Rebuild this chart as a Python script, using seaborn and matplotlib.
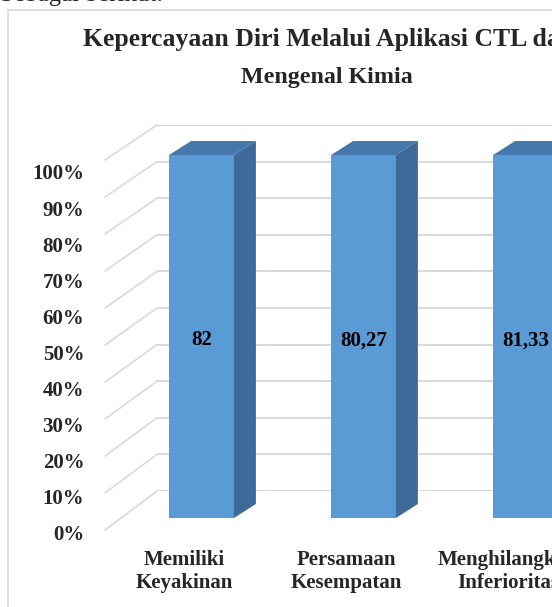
import matplotlib
matplotlib.use("Agg")
import matplotlib.pyplot as plt
import seaborn as sns
from matplotlib.patches import Polygon, Rectangle
from matplotlib.lines import Line2D

# ---------------- data ----------------
categories = ["Memiliki\nKeyakinan", "Persamaan\nKesempatan", "Menghilangkan\nInferioritas"]
values = [82, 80.27, 81.33]
# 100% stacked column with a single series -> every column fills 100 %
shares = [v / v * 100 for v in values]
value_labels = [f"{v:g}".replace(".", ",") for v in values]
y_ticks = [0, 10, 20, 30, 40, 50, 60, 70, 80, 90, 100]
y_tick_labels = [f"{t}%" for t in y_ticks]
title_line1 = "Kepercayaan Diri Melalui Aplikasi CTL dalam"
title_line2 = "Mengenal Kimia"
intro_text = "Sebagai berikut:"

# ---------------- style ----------------
sns.set_theme(style="white")
plt.rcParams["font.family"] = ["Liberation Serif", "DejaVu Serif"]

W, H = 552, 607
fig = plt.figure(figsize=(W / 100, H / 100), dpi=100)
fig.patch.set_facecolor("white")


def px_axes(left, top, right, bottom, z=0):
    a = fig.add_axes([left / W, 1 - bottom / H, (right - left) / W, (bottom - top) / H])
    a.set_zorder(z)
    a.patch.set_alpha(0)
    for s in a.spines.values():
        s.set_visible(False)
    return a


GRID = "#d9d9d9"
FONT_PT = 15

# back wall (gridlines)
ax_back = px_axes(157, 125, 157 + 486, 491, z=0)
ax_back.set_xlim(-0.5, 2.5)
ax_back.set_ylim(0, 100)
ax_back.set_yticks(y_ticks)
ax_back.set_xticks([])
ax_back.tick_params(left=False, labelleft=False)
ax_back.grid(axis="y", color=GRID, lw=1.4)

# front edge of the side wall (for depth lines)
ax_front = px_axes(105, 160, 105 + 486, 530, z=0)
ax_front.set_xlim(-0.5, 2.5)
ax_front.set_ylim(0, 100)
ax_front.set_xticks([])
ax_front.set_yticks([])

fig.canvas.draw()
inv = fig.transFigure.inverted()
for t in y_ticks:
    x0f, y0f = inv.transform(ax_front.transData.transform((-0.5, t)))
    x1f, y1f = inv.transform(ax_back.transData.transform((-0.5, t)))
    fig.add_artist(Line2D([x0f, x1f], [y0f, y1f], transform=fig.transFigure,
                          color=GRID, lw=1.2, zorder=1))

# bars (front plane)
ax = px_axes(120.5, 155, 606.5, 518, z=2)
sns.barplot(x=categories, y=shares, ax=ax, color="#5b9bd5", saturation=1,
            width=0.4, linewidth=0)
ax.set_xlim(-0.5, 2.5)
ax.set_ylim(0, 100)
ax.set_xticks([])
ax.set_yticks([])
ax.set_xlabel("")
ax.set_ylabel("")

dx = 22 / 162.0
dy = 14 / 3.63
for p, lab in zip(ax.patches, value_labels):
    x0, w, h = p.get_x(), p.get_width(), p.get_height()
    side = Polygon([(x0 + w, 0), (x0 + w + dx, dy), (x0 + w + dx, h + dy), (x0 + w, h)],
                   closed=True, facecolor="#3d6a98", edgecolor="none", clip_on=False)
    top = Polygon([(x0, h), (x0 + dx, h + dy), (x0 + w + dx, h + dy), (x0 + w, h)],
                  closed=True, facecolor="#4677aa", edgecolor="none", clip_on=False)
    ax.add_patch(side)
    ax.add_patch(top)
    p.set_clip_on(False)
    ax.text(x0 + w / 2, h * 0.49, lab, ha="center", va="center",
            fontsize=FONT_PT, fontweight="bold", color="black")

# tick labels (front plane)
ax_lab = px_axes(103, 172, 103 + 486, 533, z=3)
ax_lab.set_xlim(-0.5, 2.5)
ax_lab.set_ylim(0, 100)
ax_lab.set_xticks(range(len(categories)))
ax_lab.set_xticklabels(categories, fontsize=FONT_PT, fontweight="bold", linespacing=1.2)
ax_lab.set_yticks(y_ticks)
ax_lab.set_yticklabels(y_tick_labels, fontsize=FONT_PT, fontweight="bold")
ax_lab.tick_params(axis="y", length=0, pad=13.5)
ax_lab.tick_params(axis="x", length=0, pad=12)
ax_lab.grid(False)

# titles
fig.text(83 / W, 1 - 46 / H, title_line1, ha="left", va="baseline",
         fontsize=18.5, fontweight="bold")
fig.text(327 / W, 1 - 83 / H, title_line2, ha="center", va="baseline",
         fontsize=17.3, fontweight="bold")
fig.text(0, 1 - 1 / H, intro_text, ha="left", va="baseline", fontsize=18)

# chart frame
fig.add_artist(Rectangle((8 / W, -0.2), 2, 1.2 - 10 / H, transform=fig.transFigure,
                         fill=False, edgecolor=GRID, lw=1.2, zorder=0))

fig.savefig("out.png", dpi=100)
